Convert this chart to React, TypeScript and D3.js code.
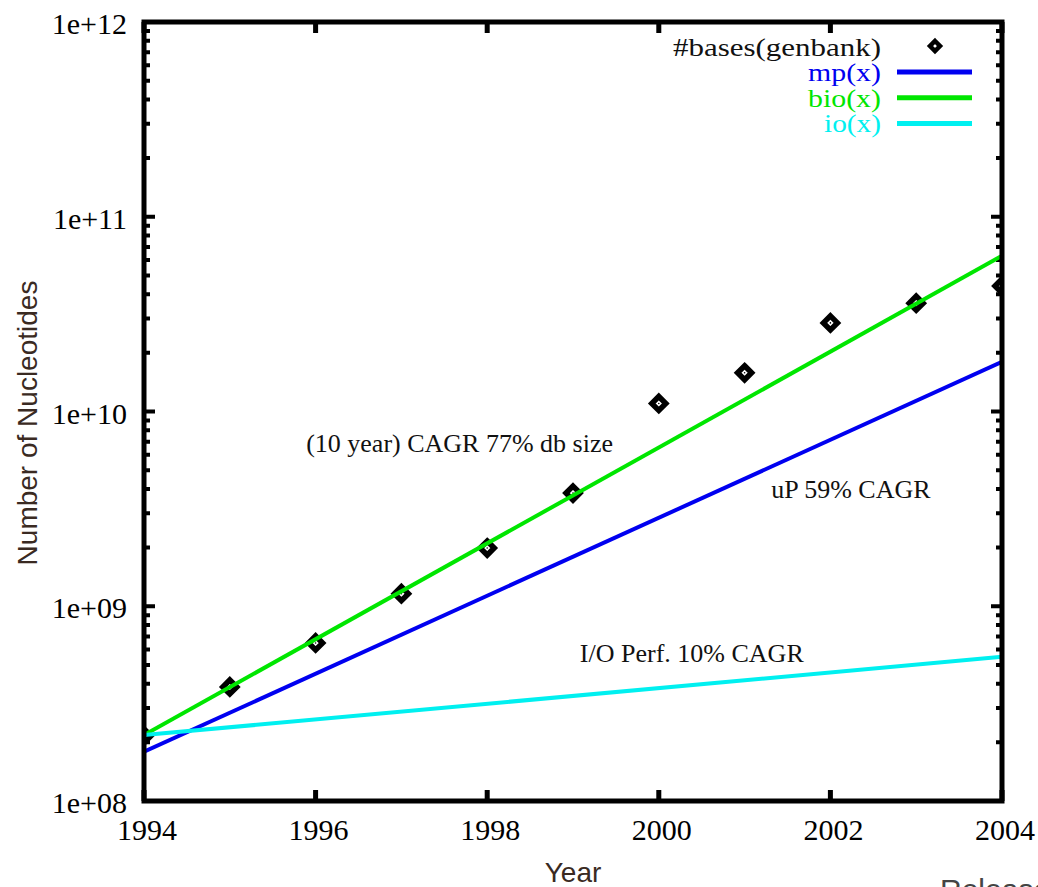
import * as d3 from "d3";
import { useEffect, useRef } from "react";

// genbank size per year
const years = [1994, 1995, 1996, 1997, 1998, 1999, 2000, 2001, 2002, 2003, 2004];
const genbank = [2.16e8, 3.85e8, 6.48e8, 1.16e9, 1.99e9, 3.81e9, 1.1e10, 1.58e10, 2.85e10, 3.6e10, 4.41e10];

// fitted trend lines, start and end points
const lineYears = [1994, 2004];
const mpValues = [1.79e8, 1.8e10];
const bioValues = [2.18e8, 6.3e10];
const ioValues = [2.18e8, 5.5e8];

const xTicks = [1994, 1996, 1998, 2000, 2002, 2004];
const yTicks = [1e8, 1e9, 1e10, 1e11, 1e12];
const yTickLabels = ["1e+08", "1e+09", "1e+10", "1e+11", "1e+12"];

const seriesNames = ["mp(x)", "bio(x)", "io(x)"];
const seriesColors = ["#0000f0", "#00e600", "#00f0f0"];
const legendWidths = [73, 73, 57];

const notes = [
  { text: "(10 year) CAGR 77% db size", year: 1995.89, value: 6.2e9 },
  { text: "uP 59% CAGR", year: 2001.31, value: 3.6e9 },
  { text: "I/O Perf. 10% CAGR", year: 1999.08, value: 5.17e8 },
];

const W = 1038;
const H = 887;
const margin = { left: 144, right: W - 1002, top: 22, bottom: H - 801 };
const serif = "'Liberation Serif', 'Times New Roman', serif";
const sans = "'Liberation Sans', Arial, sans-serif";

function GenbankChart() {
  const svgRef = useRef(null);

  useEffect(() => {
    const svg = d3.select(svgRef.current);
    svg.selectAll("*").remove();

    const x = d3.scaleLinear().domain([1994, 2004]).range([margin.left, W - margin.right]);
    const y = d3.scaleLog().domain([1e8, 1e12]).range([H - margin.bottom, margin.top]);
    const [x0, x1] = x.range();
    const [y0, y1] = y.range();

    svg.append("defs").append("clipPath").attr("id", "plotclip")
      .append("rect").attr("x", x0).attr("y", y1).attr("width", x1 - x0).attr("height", y0 - y1);

    const ticks = svg.append("g").attr("stroke", "black").attr("stroke-width", 4);
    // y ticks, major + minor, on both sides
    const minor = y.ticks().filter((v) => !yTicks.includes(v));
    ticks.selectAll(".ymaj").data(yTicks).join("path")
      .attr("d", (v) => `M${x0},${y(v)}h11M${x1},${y(v)}h-11`);
    ticks.selectAll(".ymin").data(minor).join("path")
      .attr("d", (v) => `M${x0},${y(v)}h6M${x1},${y(v)}h-6`);
    ticks.selectAll(".xmaj").data(xTicks).join("path")
      .attr("stroke-width", 5)
      .attr("d", (v) => `M${x(v)},${y0}v-11M${x(v)},${y1}v11`);

    svg.append("g").attr("font-family", serif).attr("font-size", 30).attr("text-anchor", "end")
      .selectAll("text").data(yTicks).join("text")
      .attr("x", x0 - 17).attr("y", (v) => y(v) + 12)
      .text((v, i) => yTickLabels[i]);

    svg.append("g").attr("font-family", serif).attr("font-size", 30).attr("text-anchor", "middle")
      .selectAll("text").data(xTicks).join("text")
      .attr("x", (v) => x(v) + 3).attr("y", y0 + 39)
      .text((v) => v);

    const plot = svg.append("g").attr("clip-path", "url(#plotclip)");

    const diamond = "M0,-7L7,0L0,7L-7,0Z";
    const pts = plot.selectAll(".pt").data(years).join("g")
      .attr("transform", (d, i) => `translate(${x(d)},${y(genbank[i])})`);
    pts.append("path").attr("d", diamond).attr("fill", "white").attr("stroke", "black").attr("stroke-width", 5.5);
    pts.append("circle").attr("r", 0.8).attr("fill", "black");

    const line = d3.line().x((d) => x(d[0])).y((d) => y(d[1]));
    [mpValues, bioValues, ioValues].forEach((vals, i) => {
      plot.append("path")
        .datum(lineYears.map((yr, j) => [yr, vals[j]]))
        .attr("fill", "none")
        .attr("stroke", seriesColors[i])
        .attr("stroke-width", 4)
        .attr("d", line);
    });

    // frame
    svg.append("rect").attr("x", x0).attr("y", y1).attr("width", x1 - x0).attr("height", y0 - y1)
      .attr("fill", "none").attr("stroke", "black").attr("stroke-width", 5);

    svg.append("g").attr("font-family", serif).attr("font-size", 26).attr("fill", "#111")
      .selectAll("text").data(notes).join("text")
      .attr("x", (d) => x(d.year)).attr("y", (d) => y(d.value))
      .text((d) => d.text);

    // legend
    const leg = svg.append("g").attr("font-family", serif).attr("font-size", 25).attr("text-anchor", "end");
    leg.append("text").attr("x", 881).attr("y", 56).attr("fill", "#111")
      .attr("textLength", 208).attr("lengthAdjust", "spacingAndGlyphs").text("#bases(genbank)");
    const lp = leg.append("g").attr("transform", "translate(935,46)");
    lp.append("path").attr("d", "M0,-5L5,0L0,5L-5,0Z").attr("fill", "white").attr("stroke", "black").attr("stroke-width", 4.5);
    seriesNames.forEach((name, i) => {
      const by = 81 + i * 25.7;
      leg.append("text").attr("x", 881).attr("y", by).attr("fill", seriesColors[i])
        .attr("textLength", legendWidths[i]).attr("lengthAdjust", "spacingAndGlyphs").text(name);
      leg.append("line").attr("x1", 897).attr("x2", 972).attr("y1", by - 9).attr("y2", by - 9)
        .attr("stroke", seriesColors[i]).attr("stroke-width", 5);
    });

    // axis titles
    svg.append("text").attr("font-family", sans).attr("font-size", 28).attr("fill", "#3a2a22")
      .attr("text-anchor", "middle").attr("transform", "translate(37,423) rotate(-90)")
      .text("Number of Nucleotides");
    svg.append("text").attr("font-family", sans).attr("font-size", 28).attr("fill", "#3a2a22")
      .attr("text-anchor", "middle").attr("x", (x0 + x1) / 2).attr("y", 882)
      .text("Year");
    svg.append("text").attr("font-family", sans).attr("font-size", 30).attr("fill", "#444")
      .attr("x", 940).attr("y", 900).text("Release");
  }, []);

  return (
    <svg ref={svgRef} width={W} height={H} style={{ position: "absolute", left: 0, top: 0, background: "white" }} />
  );
}

export default function App() {
  return <GenbankChart />;
}
